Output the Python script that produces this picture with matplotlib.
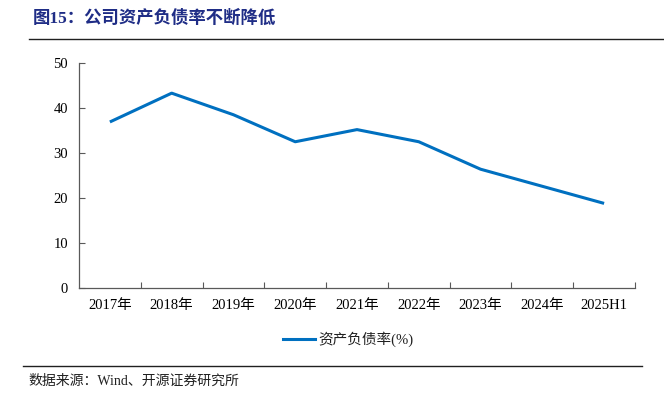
import matplotlib
matplotlib.use('Agg')
import matplotlib.pyplot as plt
from matplotlib.lines import Line2D

plt.rcParams['font.family'] = ['Liberation Serif', 'Noto Sans CJK SC', 'DejaVu Sans']

# data
categories = ['2017年', '2018年', '2019年', '2020年', '2021年', '2022年', '2023年', '2024年', '2025H1']
debt_ratio = [36.9, 43.3, 38.5, 32.5, 35.2, 32.5, 26.4, 22.6, 18.8]
series_name = '资产负债率(%)'
title = '图15：公司资产负债率不断降低'
source = '数据来源：Wind、开源证券研究所'

W, H = 664, 395
fig = plt.figure(figsize=(W / 100, H / 100), dpi=100)

# axes box in pixels: x 79..635, y 63..288
ax = fig.add_axes([79 / W, 1 - 288 / H, (635 - 79) / W, (288 - 63) / H])
x = list(range(len(categories)))
ax.plot(x, debt_ratio, color='#0070C0', lw=2.2, solid_capstyle='butt')
ax.set_xlim(-0.5, len(categories) - 0.5)
ax.set_ylim(0, 50)
ax.set_yticks(range(0, 51, 10))
ax.set_xticks([i + 0.5 for i in range(len(categories))])
ax.set_xticklabels([])
ax.set_xticks(x, minor=True)
ax.set_xticklabels(categories, minor=True)
ax.tick_params(axis='x', which='minor', length=0, pad=8, labelsize=10.5)
ax.tick_params(axis='x', which='major', direction='in', length=4, color='#595959', width=0.8)
ax.tick_params(axis='y', direction='in', length=4, color='#595959', width=0.8, pad=8, labelsize=10.5)
for s in ['top', 'right']:
    ax.spines[s].set_visible(False)
for s in ['left', 'bottom']:
    ax.spines[s].set_color('#595959')
    ax.spines[s].set_linewidth(0.9)

# title and rules
fig.text(33 / W, 1 - 18 / H, title, fontsize=12.5, fontweight='bold', color='#1F2D86',
         va='center', ha='left')
fig.add_artist(Line2D([29 / W, 1.0], [1 - 39 / H, 1 - 39 / H], color='#202020', lw=1.0))
fig.add_artist(Line2D([23 / W, 642 / W], [1 - 366 / H, 1 - 366 / H], color='#202020', lw=1.0))
fig.text(28 / W, 1 - 381 / H, source, fontsize=10, color='#202020', va='center', ha='left')

# legend
fig.add_artist(Line2D([283 / W, 315 / W], [1 - 339 / H, 1 - 339 / H], color='#0070C0', lw=2.2))
fig.text(318 / W, 1 - 339 / H, series_name, fontsize=10.5, color='#202020', va='center', ha='left')

fig.savefig('out.png', dpi=100)
